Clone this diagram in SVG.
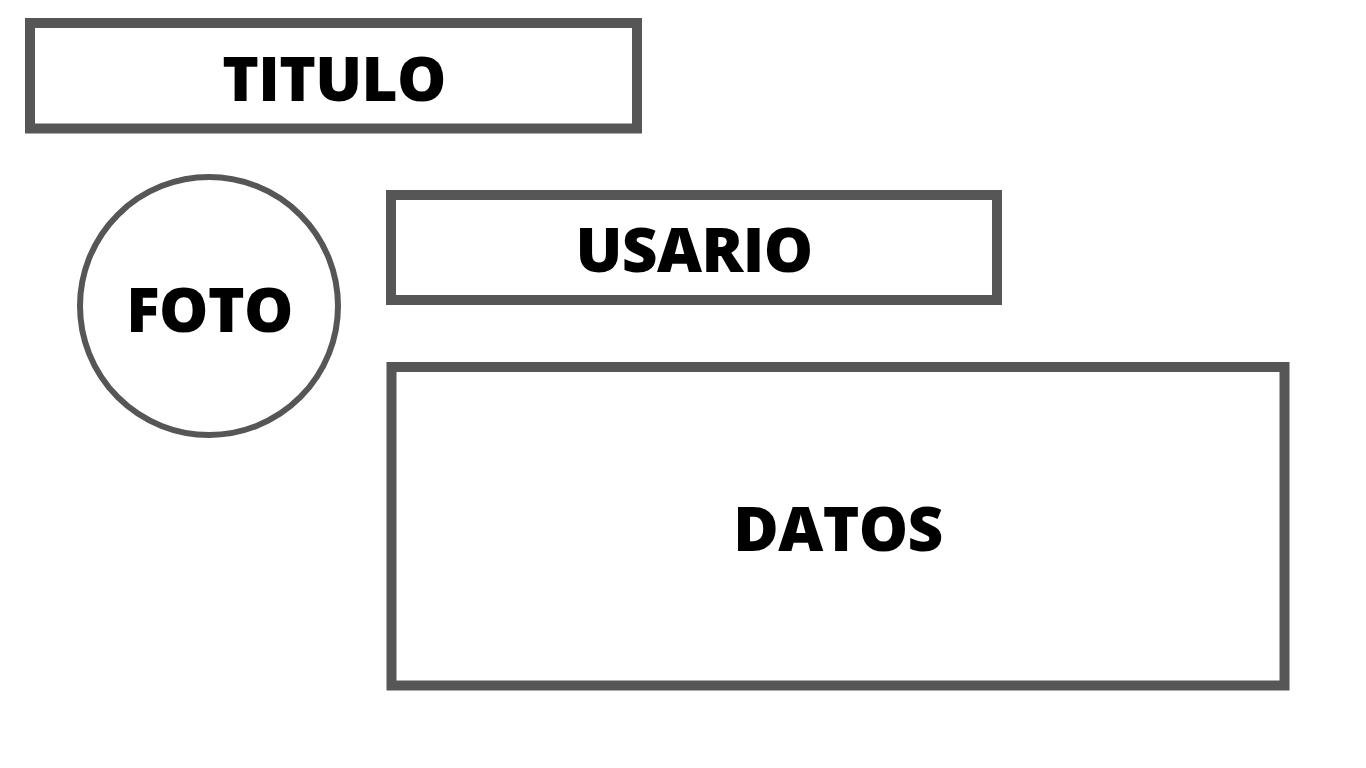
<svg xmlns="http://www.w3.org/2000/svg" width="1366" height="768" viewBox="0 0 1366 768">
<style>
.box{fill:#ffffff;stroke:#565656;stroke-width:10}
.circ{fill:#ffffff;stroke:#565656;stroke-width:6}
.lbl{font-family:"Open Sans","Liberation Sans",sans-serif;font-weight:800;font-size:62px;letter-spacing:-0.6px;fill:#000000;text-anchor:middle}
</style>
<rect width="1366" height="768" fill="#ffffff"/>
<g id="titulo">
<rect class="box" x="30" y="23" width="607" height="105.5"/>
<text class="lbl" x="334" y="101">TITULO</text>
</g>
<g id="foto">
<circle class="circ" cx="209" cy="306" r="129"/>
<text class="lbl" x="209.5" y="332">FOTO</text>
</g>
<g id="usario">
<rect class="box" x="391" y="195" width="606" height="105"/>
<text class="lbl" x="694" y="272">USARIO</text>
</g>
<g id="datos">
<rect class="box" x="391.5" y="367" width="893" height="318.5"/>
<text class="lbl" x="838" y="551">DATOS</text>
</g>
<g id="connectors"></g>
</svg>
